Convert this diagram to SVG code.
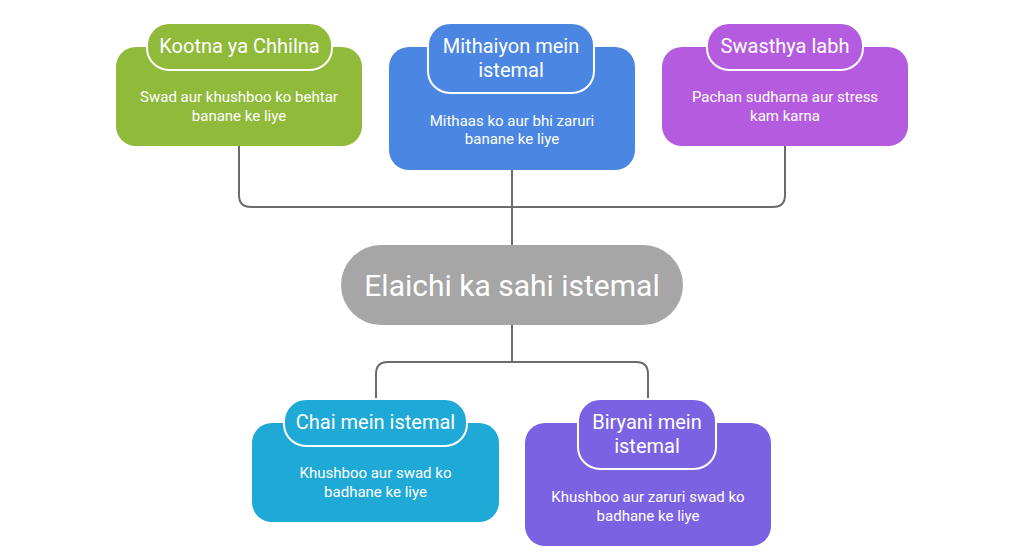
<svg xmlns="http://www.w3.org/2000/svg" width="1024" height="559" viewBox="0 0 1024 559">
<style>
.t{font-family:Roboto,"Liberation Sans",sans-serif;fill:#ffffff;text-anchor:middle}
.h{font-size:20px}
.b{font-size:15px}
.c{font-size:30px}
.pill{stroke:#ffffff;stroke-width:2}
.ln{fill:none;stroke:#6b6b6b;stroke-width:2}
</style>
<rect width="1024" height="559" fill="#ffffff"/>
<g id="connectors">
<path class="ln" d="M239,146 V195 Q239,207 251,207 H773 Q785,207 785,195 V146"/>
<path class="ln" d="M512,170 V245"/>
<path class="ln" d="M512,325 V362"/>
<path class="ln" d="M376,400 V374 Q376,362 388,362 H636 Q648,362 648,374 V400"/>
</g>
<g id="n-kootna">
<rect x="116" y="47" width="246" height="99" rx="20" fill="#8fba3a"/>
<rect class="pill" x="147" y="23" width="185" height="47" rx="22" fill="#8fba3a"/>
<text class="t h" x="239.5" y="53">Kootna ya Chhilna</text>
<text class="t b" x="239" y="101.5">Swad aur khushboo ko behtar</text>
<text class="t b" x="239" y="120.5">banane ke liye</text>
</g>
<g id="n-mithaiyon">
<rect x="389" y="47" width="246" height="123" rx="20" fill="#4b87e2"/>
<rect class="pill" x="428" y="23" width="166" height="70" rx="22" fill="#4b87e2"/>
<text class="t h" x="511" y="53">Mithaiyon mein</text>
<text class="t h" x="511" y="77">istemal</text>
<text class="t b" x="512" y="125.5">Mithaas ko aur bhi zaruri</text>
<text class="t b" x="512" y="143.5">banane ke liye</text>
</g>
<g id="n-swasthya">
<rect x="662" y="47" width="246" height="99" rx="20" fill="#b45be0"/>
<rect class="pill" x="707" y="23" width="156" height="47" rx="22" fill="#b45be0"/>
<text class="t h" x="785" y="53">Swasthya labh</text>
<text class="t b" x="785" y="101.5">Pachan sudharna aur stress</text>
<text class="t b" x="785" y="120.5">kam karna</text>
</g>
<g id="n-center">
<rect x="341" y="245" width="342" height="80" rx="40" fill="#a6a6a6"/>
<text class="t c" x="512" y="295.5">Elaichi ka sahi istemal</text>
</g>
<g id="n-chai">
<rect x="252" y="423" width="247" height="99" rx="20" fill="#1fa9d6"/>
<rect class="pill" x="284" y="399" width="183" height="47" rx="22" fill="#1fa9d6"/>
<text class="t h" x="375.5" y="429">Chai mein istemal</text>
<text class="t b" x="375.5" y="477.5">Khushboo aur swad ko</text>
<text class="t b" x="375.5" y="496.5">badhane ke liye</text>
</g>
<g id="n-biryani">
<rect x="525" y="423" width="246" height="123" rx="20" fill="#7b62e3"/>
<rect class="pill" x="578" y="399" width="138" height="70" rx="22" fill="#7b62e3"/>
<text class="t h" x="647" y="429">Biryani mein</text>
<text class="t h" x="647" y="453">istemal</text>
<text class="t b" x="648" y="501.5">Khushboo aur zaruri swad ko</text>
<text class="t b" x="648" y="520.5">badhane ke liye</text>
</g>
</svg>
